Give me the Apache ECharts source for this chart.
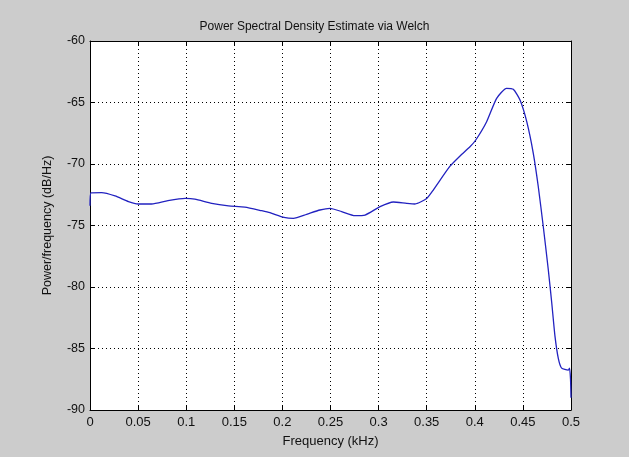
<!DOCTYPE html>
<html>
<head>
<meta charset="utf-8">
<script src="https://cdn.jsdelivr.net/npm/echarts@6/dist/echarts.min.js"></script>
<style>
  html, body { margin: 0; padding: 0; background: #cccccc; }
  #chart { width: 629px; height: 457px; }
</style>
</head>
<body>
<div id="chart"></div>
<script>
// Welch PSD estimate: frequency (kHz) and power/frequency (dB/Hz)
var freq = [0, 0.001, 0.012, 0.026, 0.040, 0.050, 0.064, 0.081, 0.099, 0.109,
            0.1265, 0.144, 0.161, 0.1785, 0.187, 0.2017, 0.2114, 0.2252, 0.239, 0.2495,
            0.2616, 0.2755, 0.2859, 0.3015, 0.3153, 0.3292, 0.3378, 0.350, 0.357, 0.374,
            0.3846, 0.395, 0.401, 0.4123, 0.4227, 0.433, 0.440, 0.447, 0.454, 0.4608,
            0.466, 0.4712, 0.4764, 0.480, 0.4834, 0.4868, 0.4903, 0.4972, 0.4985, 0.4995, 0.5];
var psd = [-73.4, -72.35, -72.33, -72.6, -73.06, -73.25, -73.25, -72.98, -72.8, -72.86,
           -73.2, -73.4, -73.5, -73.8, -73.96, -74.34, -74.42, -74.09, -73.74, -73.6,
           -73.87, -74.2, -74.15, -73.47, -73.09, -73.2, -73.25, -72.8, -72.1, -70.2,
           -69.35, -68.6, -68.05, -66.56, -64.66, -63.85, -63.93, -64.8, -66.56, -69.13,
           -71.85, -75.1, -78.6, -81.3, -84.04, -85.8, -86.6, -86.75, -86.6, -87.5, -89.0];

var xTicks = [0, 0.05, 0.1, 0.15, 0.2, 0.25, 0.3, 0.35, 0.4, 0.45, 0.5];
var yTicks = [-90, -85, -80, -75, -70, -65, -60];

var FONT = 'Liberation Sans, Arial, sans-serif';
var points = freq.map(function (f, i) { return [f, psd[i]]; });

function fmtX(v) {
  return String(Math.round(v * 100) / 100);
}

var gridLine = { show: true, lineStyle: { color: '#000', width: 1, type: [1, 3] } };
var edge = { show: true, onZero: false, lineStyle: { color: '#000', width: 1 } };
var tickIn = { show: true, inside: true, length: 5, lineStyle: { color: '#000' } };

var chart = echarts.init(document.getElementById('chart'), null, { renderer: 'canvas' });
chart.setOption({
  backgroundColor: '#cccccc',
  animation: false,
  title: {
    text: 'Power Spectral Density Estimate via Welch',
    left: 'center',
    top: 16,
    textStyle: { fontFamily: FONT, fontSize: 12, fontWeight: 'normal', color: '#111' }
  },
  grid: { left: 90, top: 41, width: 481, height: 369, backgroundColor: '#fff', show: true, borderWidth: 0 },
  xAxis: [{
    type: 'value', min: 0, max: 0.5, interval: 0.05,
    name: 'Frequency (kHz)', nameLocation: 'middle', nameGap: 25,
    nameTextStyle: { fontFamily: FONT, fontSize: 13, color: '#111' },
    axisLine: edge, axisTick: tickIn, splitLine: gridLine,
    axisLabel: { fontFamily: FONT, fontSize: 13, color: '#111', margin: 6,
                 formatter: function (v) { return fmtX(v); } }
  }, {
    type: 'value', min: 0, max: 0.5, interval: 0.05, position: 'top',
    axisLine: edge, axisTick: tickIn, splitLine: { show: false }, axisLabel: { show: false }
  }],
  yAxis: [{
    type: 'value', min: -90, max: -60, interval: 5,
    name: 'Power/frequency (dB/Hz)', nameLocation: 'middle', nameGap: 36,
    nameTextStyle: { fontFamily: FONT, fontSize: 12.5, color: '#111' },
    axisLine: edge, axisTick: tickIn, splitLine: gridLine,
    axisLabel: { fontFamily: FONT, fontSize: 12.5, color: '#111', margin: 5 }
  }, {
    type: 'value', min: -90, max: -60, interval: 5, position: 'right',
    axisLine: edge, axisTick: tickIn, splitLine: { show: false }, axisLabel: { show: false }
  }],
  series: [{
    type: 'line',
    data: points,
    showSymbol: false,
    smooth: 0.2,
    lineStyle: { color: '#2222c0', width: 1.3 },
    xAxisIndex: 0, yAxisIndex: 0
  }]
});
</script>
</body>
</html>
